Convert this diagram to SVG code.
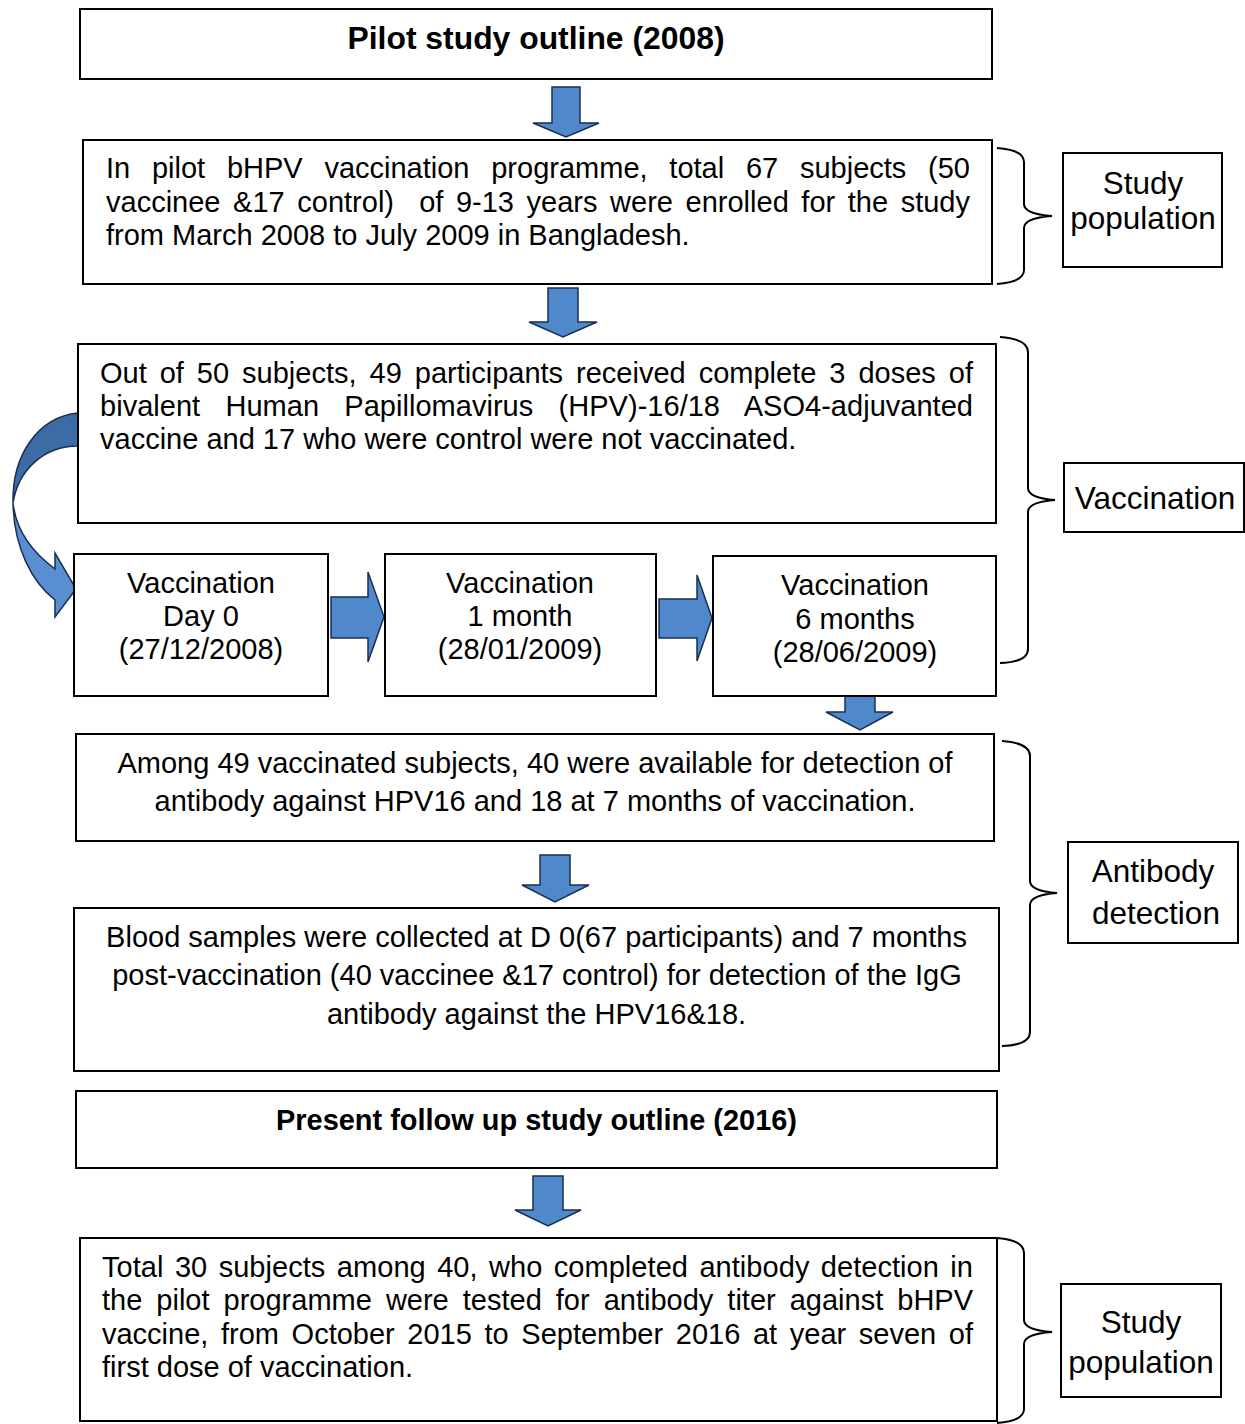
<svg xmlns="http://www.w3.org/2000/svg" width="1245" height="1424" viewBox="0 0 1245 1424">
<style>
.box{fill:#fff;stroke:#000;stroke-width:2}
.t{font-family:"Liberation Sans",Arial,sans-serif;font-size:29px;fill:#000}
.b{font-weight:bold}
.c{text-anchor:middle}
.lab{font-family:"Liberation Sans",Arial,sans-serif;font-size:31.5px;fill:#000;text-anchor:middle}
.arr{fill:#5088cc;stroke:#1a2f4f;stroke-width:1.5;stroke-linejoin:miter}
.br{fill:none;stroke:#000;stroke-width:2}
</style>
<rect width="1245" height="1424" fill="#fff"/>

<g id="connectors">
  <path class="arr" d="M552,87 H580 V123 H599 L566,137 L533,123 H552 Z"/>
  <path class="arr" d="M548,288 H578 V322 H597 L563,337 L529,322 H548 Z"/>
  <path class="arr" d="M331,597 H368 V572 L384,617 L368,662 V638 H331 Z"/>
  <path class="arr" d="M659,599 H697 V575 L712,618 L697,661 V638 H659 Z"/>
  <path class="arr" d="M845,674 H875 V712 H893 L860,730 L826,712 H845 Z"/>
  <path class="arr" d="M540,855 H570 V885 H589 L555,902 L522,885 H540 Z"/>
  <path class="arr" d="M533,1176 H563 V1210 H581 L548,1226 L515,1210 H533 Z"/>
  <path class="arr" style="fill:#5a8ed2" d="M13,503 C14,548 32,582 55,600 L55,617 L76,589 L55,553 L55,569 C32,552 16,530 13,503 Z"/>
  <path class="arr" style="fill:#3d6ba6" d="M78,413 C38,417 12,455 13,503 C18,470 44,446 78,446 Z"/>
  <path class="br" d="M997,148 Q1024,150 1024,162 V204 Q1024,214 1052,216 Q1024,218 1024,228 V270 Q1024,282 997,284"/>
  <path class="br" d="M1000,337 Q1028,339 1028,352 V488 Q1028,498 1055,500 Q1028,502 1028,512 V649 Q1028,662 1000,663"/>
  <path class="br" d="M1002,741 Q1030,743 1030,756 V881 Q1030,891 1057,893 Q1030,895 1030,905 V1032 Q1030,1045 1002,1046"/>
  <path class="br" d="M997,1238 Q1024,1240 1024,1253 V1320 Q1024,1330 1052,1332 Q1024,1334 1024,1344 V1409 Q1024,1421 997,1423"/>
</g>

<g id="title1">
  <rect class="box" x="80" y="9" width="912" height="70"/>
  <text class="t b c" x="536" y="49" style="font-size:31px" textLength="377" lengthAdjust="spacingAndGlyphs">Pilot study outline (2008)</text>
</g>

<g id="enrol">
  <rect class="box" x="83" y="140" width="909" height="144"/>
  <text class="t" x="106" y="178" word-spacing="13.7" textLength="864" lengthAdjust="spacing">In pilot bHPV vaccination programme, total 67 subjects (50</text>
  <text class="t" x="106" y="212" word-spacing="4.5" style="white-space:pre" textLength="864" lengthAdjust="spacing">vaccinee &amp;17 control)  of 9-13 years were enrolled for the study</text>
  <text class="t" x="106" y="245">from March 2008 to July 2009 in Bangladesh.</text>
</g>

<g id="label-study1">
  <rect class="box" x="1063" y="153" width="159" height="114"/>
  <text class="lab" x="1143" y="194">Study</text>
  <text class="lab" x="1143" y="229">population</text>
</g>

<g id="doses">
  <rect class="box" x="78" y="344" width="918" height="179"/>
  <text class="t" x="100" y="383" word-spacing="4.9" textLength="873" lengthAdjust="spacing">Out of 50 subjects, 49 participants received complete 3 doses of</text>
  <text class="t" x="100" y="416" word-spacing="17.2" textLength="873" lengthAdjust="spacing">bivalent Human Papillomavirus (HPV)-16/18 ASO4-adjuvanted</text>
  <text class="t" x="100" y="449">vaccine and 17 who were control were not vaccinated.</text>
</g>

<g id="label-vacc">
  <rect class="box" x="1064" y="463" width="180" height="69"/>
  <text class="lab" x="1155" y="509">Vaccination</text>
</g>

<g id="day0">
  <rect class="box" x="74" y="554" width="254" height="142"/>
  <text class="t c" x="201" y="593">Vaccination</text>
  <text class="t c" x="201" y="626">Day 0</text>
  <text class="t c" x="201" y="659">(27/12/2008)</text>
</g>

<g id="month1">
  <rect class="box" x="385" y="554" width="271" height="142"/>
  <text class="t c" x="520" y="593">Vaccination</text>
  <text class="t c" x="520" y="626">1 month</text>
  <text class="t c" x="520" y="659">(28/01/2009)</text>
</g>

<g id="month6">
  <rect class="box" x="713" y="556" width="283" height="140"/>
  <text class="t c" x="855" y="595">Vaccination</text>
  <text class="t c" x="855" y="629">6 months</text>
  <text class="t c" x="855" y="662">(28/06/2009)</text>
</g>

<g id="available">
  <rect class="box" x="76" y="734" width="918" height="107"/>
  <text class="t c" x="535" y="773">Among 49 vaccinated subjects, 40 were available for detection of</text>
  <text class="t c" x="535" y="811">antibody against HPV16 and 18 at 7 months of vaccination.</text>
</g>

<g id="blood">
  <rect class="box" x="74" y="908" width="925" height="163"/>
  <text class="t c" x="536.5" y="947">Blood samples were collected at D 0(67 participants) and 7 months</text>
  <text class="t c" x="537" y="985">post-vaccination (40 vaccinee &amp;17 control) for detection of the IgG</text>
  <text class="t c" x="536.5" y="1024">antibody against the HPV16&amp;18.</text>
</g>

<g id="label-antibody">
  <rect class="box" x="1068" y="842" width="170" height="101"/>
  <text class="lab" x="1153" y="882">Antibody</text>
  <text class="lab" x="1156" y="924">detection</text>
</g>

<g id="title2">
  <rect class="box" x="76" y="1091" width="921" height="77"/>
  <text class="t b c" x="536.5" y="1130" textLength="521" lengthAdjust="spacingAndGlyphs">Present follow up study outline (2016)</text>
</g>

<g id="followup">
  <rect class="box" x="80" y="1238" width="917" height="183"/>
  <text class="t" x="102" y="1277" word-spacing="3.3" textLength="871" lengthAdjust="spacing">Total 30 subjects among 40, who completed antibody detection in</text>
  <text class="t" x="102" y="1310" word-spacing="6" textLength="871" lengthAdjust="spacing">the pilot programme were tested for antibody titer against bHPV</text>
  <text class="t" x="102" y="1344" word-spacing="4.6" textLength="871" lengthAdjust="spacing">vaccine, from October 2015 to September 2016 at year seven of</text>
  <text class="t" x="102" y="1377">first dose of vaccination.</text>
</g>

<g id="label-study2">
  <rect class="box" x="1061" y="1284" width="160" height="113"/>
  <text class="lab" x="1141" y="1333">Study</text>
  <text class="lab" x="1141" y="1373">population</text>
</g>
</svg>
